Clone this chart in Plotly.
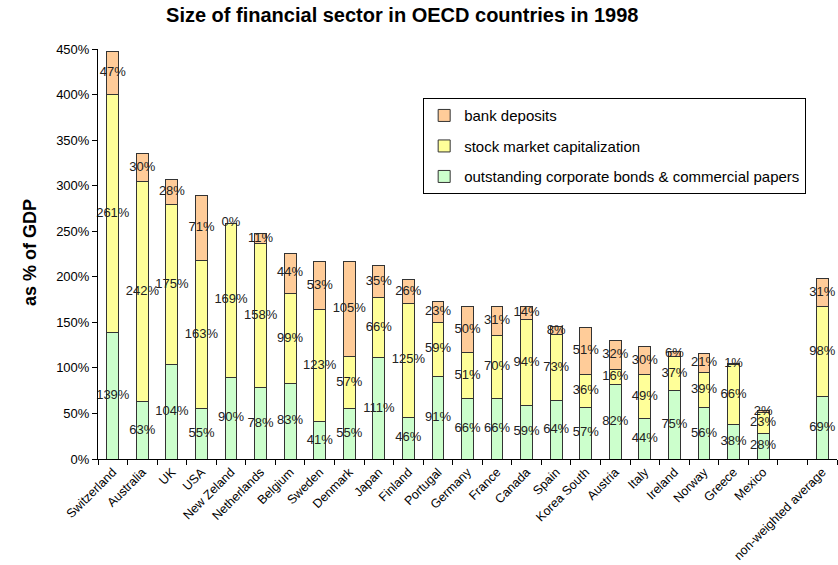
import plotly.graph_objects as go

countries = ["Switzerland", "Australia", "UK", "USA", "New Zeland", "Netherlands", "Belgium",
             "Sweden", "Denmark", "Japan", "Finland", "Portugal", "Germany", "France", "Canada",
             "Spain", "Korea South", "Austria", "Italy", "Ireland", "Norway", "Greece", "Mexico",
             " ", "non-weighted average"]

bonds = [139, 63, 104, 55, 90, 78, 83, 41, 55, 111, 46, 91, 66, 66, 59, 64, 57, 82, 44, 75, 56, 38, 28, None, 69]
stock = [261, 242, 175, 163, 169, 158, 99, 123, 57, 66, 125, 59, 51, 70, 94, 73, 36, 16, 49, 37, 39, 66, 23, None, 98]
bank = [47, 30, 28, 71, 0, 11, 44, 53, 105, 35, 26, 23, 50, 31, 14, 8, 51, 32, 30, 6, 21, 1, 2, None, 31]

series_names = ["outstanding corporate bonds & commercial papers", "stock market capitalization", "bank deposits"]
colors = ["#CCFFCC", "#FFFF99", "#FFCC99"]
legend_ranks = [3, 2, 1]
y_ticks = list(range(0, 451, 50))

FONT = "Arial, Liberation Sans, sans-serif"

fig = go.Figure()
series = [bonds, stock, bank]
for i, (vals, name, col) in enumerate(zip(series, series_names, colors)):
    fig.add_trace(go.Bar(
        x=countries, y=vals, name=name, legendgroup=name, legendrank=legend_ranks[i],
        marker=dict(color=col, line=dict(color="#333333", width=1)),
        hoverinfo="skip",
    ))

# value labels at segment centres
for i, vals in enumerate(series):
    xs, ys, ts = [], [], []
    for j, c in enumerate(countries):
        if vals[j] is None:
            continue
        base = sum(series[k][j] for k in range(i))
        xs.append(c)
        ys.append(base + vals[j] / 2)
        ts.append(f"{vals[j]}%")
    fig.add_trace(go.Scatter(
        x=xs, y=ys, text=ts, mode="text", showlegend=False,
        textfont=dict(family=FONT, size=13, color="#222222"),
        textposition="middle center", hoverinfo="skip", cliponaxis=False,
    ))

fig.update_layout(
    width=838, height=565,
    barmode="stack", bargap=0.6,
    plot_bgcolor="white", paper_bgcolor="white",
    margin=dict(l=98, r=1, t=49, b=106, autoexpand=False),
    font=dict(family=FONT, size=13, color="#000000"),
    title=dict(text="<b>Size of financial sector in OECD countries in 1998</b>",
               x=0.48, xanchor="center", xref="container",
               y=1 - 15 / 565, yanchor="middle", yref="container",
               font=dict(family=FONT, size=20, color="#000000")),
    legend=dict(x=0.44, y=0.88, xanchor="left", yanchor="top",
                bordercolor="#000000", borderwidth=1, bgcolor="white",
                traceorder="grouped", tracegroupgap=8,
                font=dict(family=FONT, size=15, color="#000000")),
    xaxis=dict(type="category", range=[-0.5, len(countries) - 0.5],
               tickangle=-45, ticks="outside", tickson="boundaries",
               ticklen=5, tickcolor="#000000", showline=True, linecolor="#000000",
               linewidth=1, showgrid=False, automargin=False,
               tickfont=dict(family=FONT, size=12.5, color="#000000")),
    yaxis=dict(range=[0, 450], tickvals=y_ticks, ticktext=[f"{v}%" for v in y_ticks],
               ticks="outside", ticklen=5, tickcolor="#000000", showline=True,
               linecolor="#000000", linewidth=1, showgrid=False, zeroline=False,
               automargin=False,
               tickfont=dict(family=FONT, size=13, color="#000000")),
    annotations=[dict(text="<b>as % of GDP</b>", textangle=-90, xref="paper", yref="paper",
                      x=-68 / 739, y=(459 - 253) / 410, xanchor="center", yanchor="middle",
                      showarrow=False, font=dict(family=FONT, size=18, color="#000000"))],
)

fig.write_html("out.html", config={"displayModeBar": False},
               post_script="document.body.style.margin='0';")
